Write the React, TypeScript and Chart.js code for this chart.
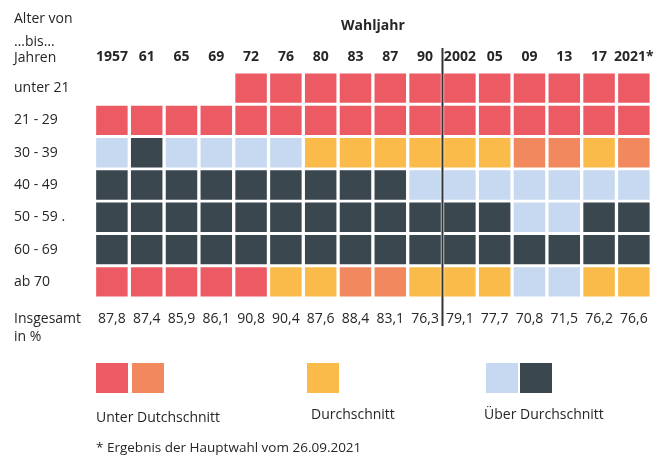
import React, { useEffect, useRef } from "react";
import { Chart, registerables } from "chart.js";

Chart.register(...registerables);

// ---- Data ----
const years = ["1957", "61", "65", "69", "72", "76", "80", "83", "87", "90", "2002", "05", "09", "13", "17", "2021*"];
const ageGroups = ["unter 21", "21 - 29", "30 - 39", "40 - 49", "50 - 59 .", "60 - 69", "ab 70"];
const totals = ["87,8", "87,4", "85,9", "86,1", "90,8", "90,4", "87,6", "88,4", "83,1", "76,3", "79,1", "77,7", "70,8", "71,5", "76,2", "76,6"];

// Codes: R / O = unter Durchschnitt (red / orange), Y = Durchschnitt, L / D = über Durchschnitt (light / dark)
const rowUnter21 = [null, null, null, null, "R", "R", "R", "R", "R", "R", "R", "R", "R", "R", "R", "R"];
const row21to29 = ["R", "R", "R", "R", "R", "R", "R", "R", "R", "R", "R", "R", "R", "R", "R", "R"];
const row30to39 = ["L", "D", "L", "L", "L", "L", "Y", "Y", "Y", "Y", "Y", "Y", "O", "O", "Y", "O"];
const row40to49 = ["D", "D", "D", "D", "D", "D", "D", "D", "D", "L", "L", "L", "L", "L", "L", "L"];
const row50to59 = ["D", "D", "D", "D", "D", "D", "D", "D", "D", "D", "D", "D", "L", "L", "D", "D"];
const row60to69 = ["D", "D", "D", "D", "D", "D", "D", "D", "D", "D", "D", "D", "D", "D", "D", "D"];
const rowAb70 = ["R", "R", "R", "R", "R", "Y", "Y", "O", "O", "Y", "Y", "Y", "L", "L", "Y", "Y"];

const rows = [rowUnter21, row21to29, row30to39, row40to49, row50to59, row60to69, rowAb70];

const COLORS: Record<string, string> = {
  R: "#ec5a64",
  O: "#f2895e",
  Y: "#fabb4a",
  L: "#c6d9f1",
  D: "#3a474f",
};

const FONT = "'Open Sans', 'Noto Sans', sans-serif";
const TEXT = "#262626";

const dividerPlugin = {
  id: "divider",
  afterDatasetsDraw(chart: any) {
    const xs = chart.scales.x;
    const area = chart.chartArea;
    const x = (xs.getPixelForValue(9) + xs.getPixelForValue(10)) / 2;
    const ctx = chart.ctx;
    ctx.save();
    ctx.strokeStyle = "#333";
    ctx.lineWidth = 2;
    ctx.beginPath();
    ctx.moveTo(x, area.top - 24);
    ctx.lineTo(x, area.bottom + 28);
    ctx.stroke();
    ctx.restore();
  },
};

export default function App() {
  const ref = useRef<HTMLCanvasElement | null>(null);

  useEffect(() => {
    if (!ref.current) return;
    const datasets = rows.map((codes, i) => ({
      label: ageGroups[i],
      data: codes.map((c) => (c ? [i + 0.045, i + 0.955] : null)),
      backgroundColor: codes.map((c) => (c ? COLORS[c] : "transparent")),
      borderWidth: 0,
      grouped: false,
      categoryPercentage: 1,
      barPercentage: 0.905,
      xAxisID: "x",
      yAxisID: "y",
    }));

    const chart = new Chart(ref.current, {
      type: "bar",
      data: { labels: years, datasets: datasets as any },
      plugins: [dividerPlugin],
      options: {
        animation: false,
        responsive: false,
        maintainAspectRatio: false,
        layout: { padding: { left: 14, right: 1, top: 0, bottom: 118 } },
        plugins: {
          legend: { display: false },
          tooltip: { enabled: false },
        },
        scales: {
          x: {
            type: "category",
            position: "top",
            offset: true,
            grid: { display: false, drawTicks: false },
            border: { display: false },
            ticks: {
              autoSkip: false,
              maxRotation: 0,
              padding: 7,
              color: TEXT,
              font: { family: FONT, size: 14, weight: "bold" },
            },
            title: {
              display: true,
              text: "Wahljahr",
              color: TEXT,
              padding: { top: 18, bottom: 0 },
              font: { family: FONT, size: 14, weight: "bold" },
            },
            afterFit: (s: any) => {
              s.height = 72;
            },
          },
          x2: {
            type: "category",
            position: "bottom",
            labels: totals,
            offset: true,
            grid: { display: false, drawTicks: false },
            border: { display: false },
            ticks: {
              autoSkip: false,
              maxRotation: 0,
              padding: 13,
              color: TEXT,
              font: { family: FONT, size: 14 },
            },
            afterFit: (s: any) => {
              s.height = 40;
            },
          },
          y: {
            type: "linear",
            min: 0,
            max: 7,
            reverse: true,
            grid: { display: false, drawTicks: false },
            border: { display: false },
            afterBuildTicks: (axis: any) => {
              axis.ticks = ageGroups.map((_, i) => ({ value: i + 0.5 }));
            },
            ticks: {
              crossAlign: "far",
              color: TEXT,
              font: { family: FONT, size: 14 },
              callback: (v: any) => ageGroups[Math.floor(Number(v))] ?? "",
            },
            afterFit: (s: any) => {
              s.width = 80.5;
            },
          },
        },
      } as any,
    });
    return () => chart.destroy();
  }, []);

  const txt = (content: string, left: number, top: number, extra: React.CSSProperties = {}) => (
    <div
      style={{
        position: "absolute",
        left,
        top,
        fontFamily: FONT,
        fontSize: 14,
        lineHeight: "18px",
        color: TEXT,
        whiteSpace: "nowrap",
        ...extra,
      }}
    >
      {content}
    </div>
  );

  const swatch = (color: string, left: number) => (
    <div style={{ position: "absolute", left, top: 363, width: 32, height: 30, background: color }} />
  );

  return (
    <div style={{ position: "fixed", left: 0, top: 0, width: 661, height: 456, background: "#fff", overflow: "hidden" }}>
      <canvas ref={ref} width={661} height={456} style={{ position: "absolute", left: 0, top: 0, width: 661, height: 456 }} />
      {txt("Alter von", 14, 9)}
      {txt("…bis…", 14, 32)}
      {txt("Jahren", 14, 48)}
      {txt("Insgesamt", 14, 309)}
      {txt("in %", 14, 327)}
      {swatch(COLORS.R, 96)}
      {swatch(COLORS.O, 132)}
      {swatch(COLORS.Y, 307)}
      {swatch(COLORS.L, 486)}
      {swatch(COLORS.D, 520)}
      {txt("Unter Dutchschnitt", 96, 408)}
      {txt("Durchschnitt", 311, 405)}
      {txt("Über Durchschnitt", 484, 405)}
      {txt("* Ergebnis der Hauptwahl vom 26.09.2021", 96, 438, { fontSize: 13.5 })}
    </div>
  );
}
